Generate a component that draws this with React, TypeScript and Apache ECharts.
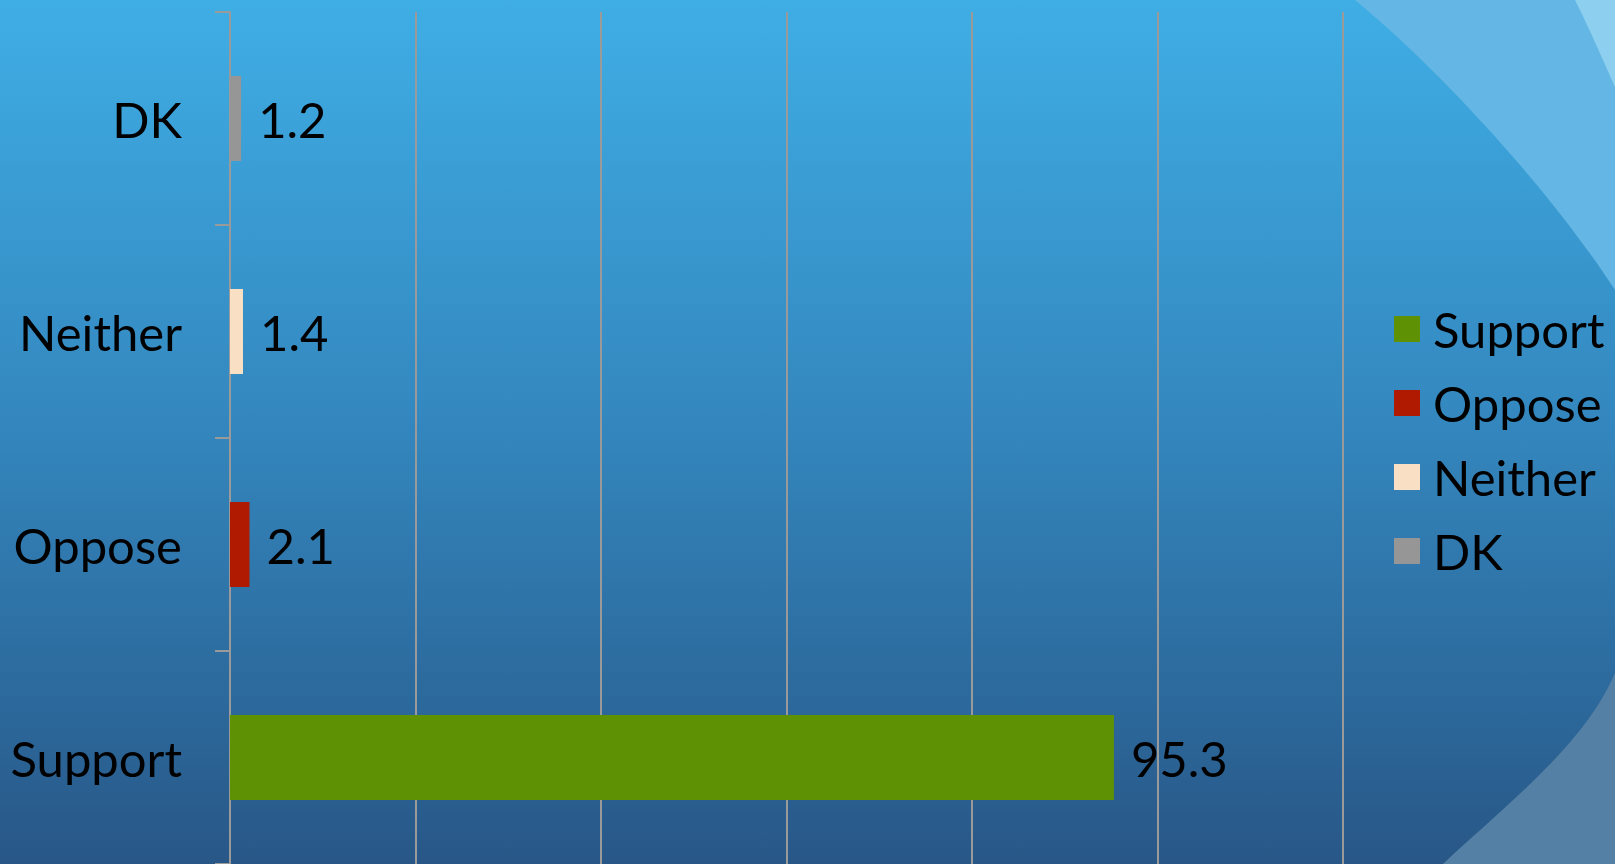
import React, { useEffect, useRef } from "react";
import * as echarts from "echarts";

const categories = ["Support", "Oppose", "Neither", "DK"];
const seriesNames = ["Support", "Oppose", "Neither", "DK"];
const values = [95.3, 2.1, 1.4, 1.2];
const colors = ["#5E9204", "#B01A00", "#F9E0C5", "#969696"];
const axisMin = 0;
const axisMax = 120;
const axisInterval = 20;

echarts.graphic.registerShape(
  "decorA",
  echarts.graphic.extendPath("M1355 0 C 1440 70 1550 190 1615 290 L1615 0 Z", {})
);
echarts.graphic.registerShape(
  "decorC",
  echarts.graphic.extendPath("M1575 0 C 1590 30 1603 60 1615 87 L1615 0 Z", {})
);
echarts.graphic.registerShape(
  "decorB",
  echarts.graphic.extendPath("M1443 864 C 1500 810 1585 745 1615 673 L1615 864 Z", {})
);

export default function App() {
  const ref = useRef<HTMLDivElement>(null);
  useEffect(() => {
    if (!ref.current) return;
    const chart = echarts.init(ref.current, null, { renderer: "svg" });
    const font = "Lato, 'Open Sans', sans-serif";
    const series = seriesNames.map((name, i) => ({
      name,
      type: "bar",
      stack: "total",
      barWidth: "40%",
      itemStyle: { color: colors[i] },
      label: {
        show: true,
        position: "right",
        distance: 17,
        color: "#000",
        fontSize: 49,
        fontFamily: font,
        formatter: (p: any) => (p.value == null || p.value === "-" ? "" : String(p.value)),
      },
      data: categories.map((c) => (c === name ? values[i] : "-")),
    }));
    chart.setOption({
      animation: false,
      backgroundColor: {
        type: "linear",
        x: 0,
        y: 0,
        x2: 0,
        y2: 1,
        colorStops: [
          { offset: 0, color: "#3FAEE5" },
          { offset: 0.5, color: "#3386BD" },
          { offset: 1, color: "#285787" },
        ],
      },
      graphic: [
        { type: "decorA", x: 0, y: 0, z: -10, silent: true, style: { fill: "#64B6E4" } },
        { type: "decorC", x: 0, y: 0, z: -9, silent: true, style: { fill: "#8CCFEF" } },
        { type: "decorB", x: 0, y: 0, z: -10, silent: true, style: { fill: "#5580A5" } },
      ],
      grid: { left: 230, top: 12, width: 1113, height: 853, containLabel: false },
      xAxis: {
        type: "value",
        min: axisMin,
        max: axisMax,
        interval: axisInterval,
        axisLabel: { show: false },
        axisLine: { show: false },
        axisTick: { show: false },
        splitLine: { show: true, lineStyle: { color: "#9A9A9A", width: 2 } },
      },
      yAxis: {
        type: "category",
        data: categories,
        axisLine: { show: true, lineStyle: { color: "#9A9A9A", width: 2 } },
        axisTick: { show: true, length: 15, lineStyle: { color: "#9A9A9A", width: 2 } },
        axisLabel: { color: "#000", fontSize: 49, fontFamily: font, margin: 48 },
        splitLine: { show: false },
      },
      legend: {
        orient: "vertical",
        left: 1394,
        top: 301,
        padding: 0,
        itemWidth: 26,
        itemHeight: 26,
        itemGap: 18,
        icon: "rect",
        data: seriesNames,
        textStyle: {
          color: "#000",
          fontSize: 49,
          fontFamily: font,
          lineHeight: 56,
          padding: [0, 0, 0, 8],
        },
      },
      series,
    });
    return () => chart.dispose();
  }, []);
  return (
    <div
      ref={ref}
      style={{ position: "fixed", left: 0, top: 0, width: 1615, height: 864 }}
    />
  );
}
